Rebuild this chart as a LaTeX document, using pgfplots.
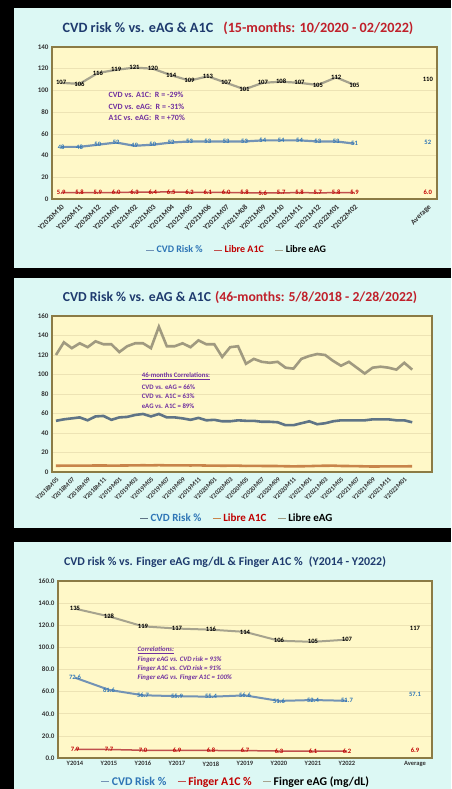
\documentclass[border=0pt]{standalone}
\usepackage{pgfplots}
\pgfplotsset{compat=1.18}
\usepackage{fontspec}
\setmainfont{Carlito}
\definecolor{panelcyan}{HTML}{DCF8F4}
\definecolor{plotbg}{HTML}{FFF8C8}
\definecolor{axisborder}{HTML}{8B7B45}
\definecolor{gridc}{HTML}{EDE3B4}
\definecolor{titlenavy}{HTML}{1F3B6E}
\definecolor{titlered}{HTML}{C0202A}
\definecolor{corrpurple}{HTML}{7030A0}
\definecolor{cvdtext}{HTML}{2E75B6}
\definecolor{a1ctext}{HTML}{C00000}
\definecolor{ticktext}{HTML}{333333}
\definecolor{eagline}{HTML}{A6A38E}
\definecolor{cvdline}{HTML}{7393B5}
\definecolor{a1cline}{HTML}{C0504D}
\definecolor{eagline2}{HTML}{A09A80}
\definecolor{cvdline2}{HTML}{5F7486}
\definecolor{a1cline2}{HTML}{C8844A}
\pgfkeys{/pgf/number format/assume math mode=true}
\pgfplotsset{
  panel/.style={
    scale only axis, clip=false,
    axis background/.style={fill=plotbg},
    axis line style={draw=axisborder, line width=1.3pt},
    ymajorgrids, grid style={draw=gridc, line width=0.6pt},
    major tick length=0pt,
    tick label style={font=\bfseries\fontsize{7}{8}\selectfont, text=ticktext},
    legend style={draw=none, fill=none, legend columns=3, font=\bfseries\fontsize{10}{12}\selectfont,
      /tikz/every even column/.append style={column sep=9pt}},
    legend image code/.code={\draw[##1, line width=0.9pt] (0pt,0pt) -- (8pt,0pt);},
  },
  lab/.style={nodes near coords, every node near coord/.append style={font=\bfseries\fontsize{6.6}{7}\selectfont, text=#1, anchor=center, inner sep=0pt}},
  labd/.style={nodes near coords={\pgfmathprintnumber[fixed,fixed zerofill,precision=1]{\pgfplotspointmeta}}, every node near coord/.append style={font=\bfseries\fontsize{6.6}{7}\selectfont, text=#1, anchor=center, inner sep=0pt}},
}
\begin{document}
\begin{tikzpicture}
\useasboundingbox (0pt,0pt) rectangle (451pt,789pt);
\fill[black] (0pt,0pt) rectangle (451pt,789pt);
\fill[panelcyan] (14pt,781pt) rectangle (451pt,521pt);
\fill[panelcyan] (14pt,511pt) rectangle (451pt,261pt);
\fill[panelcyan] (14pt,247pt) rectangle (451pt,0pt);

% ---------- Panel 1 ----------
\node[font=\bfseries\fontsize{14.2}{16}\selectfont] at (238pt,761pt)
  {\textcolor{titlenavy}{CVD risk \% vs. eAG \& A1C}\hspace{10pt}\textcolor{titlered}{(15-months: 10/2020 - 02/2022)}};
\begin{axis}[panel, at={(52pt,590pt)}, anchor=south west, width=385pt, height=152pt,
  xmin=-0.5, xmax=20.5, ymin=0, ymax=140, ytick={0,20,...,140},
  xtick={0,...,16,20},
  xticklabels={Y2020M10,Y2020M11,Y2020M12,Y2021M01,Y2021M02,Y2021M03,Y2021M04,Y2021M05,Y2021M06,Y2021M07,Y2021M08,Y2021M09,Y2021M10,Y2021M11,Y2021M12,Y2022M01,Y2022M02,Average},
  xticklabel style={rotate=45, anchor=north east, font=\bfseries\fontsize{7.5}{8}\selectfont},
  legend style={at={(0.48,-0.336)}, anchor=center}]
\addplot[cvdline, line width=2.2pt, lab=cvdtext] coordinates {(0,48)(1,48)(2,50)(3,52)(4,49)(5,50)(6,52)(7,53)(8,53)(9,53)(10,53)(11,54)(12,54)(13,54)(14,53)(15,53)(16,51)};
\addlegendentry{\textcolor{cvdtext}{CVD Risk \%}}
\addplot[a1cline, line width=1.5pt, labd=a1ctext] coordinates {(0,5.9)(1,5.8)(2,5.9)(3,6.0)(4,6.3)(5,6.4)(6,6.5)(7,6.2)(8,6.1)(9,6.0)(10,5.8)(11,5.6)(12,5.7)(13,5.8)(14,5.7)(15,5.8)(16,5.9)};
\addlegendentry{\textcolor{a1ctext}{Libre A1C}}
\addplot[eagline, line width=2.2pt, lab=black] coordinates {(0,107)(1,106)(2,116)(3,119)(4,121)(5,120)(6,114)(7,109)(8,113)(9,107)(10,101)(11,107)(12,108)(13,107)(14,105)(15,112)(16,105)};
\addlegendentry{\textcolor{black}{Libre eAG}}
\addplot[draw=none, forget plot, lab=black] coordinates {(20,110)};
\addplot[draw=none, forget plot, lab=cvdtext] coordinates {(20,52)};
\addplot[draw=none, forget plot, labd=a1ctext] coordinates {(20,6.0)};
\node[anchor=west, font=\bfseries\fontsize{8}{9}\selectfont, text=corrpurple] at (axis cs:2.4,95.8) {CVD vs. A1C:\ \ R = -29\%};
\node[anchor=west, font=\bfseries\fontsize{8}{9}\selectfont, text=corrpurple] at (axis cs:2.4,84.7) {CVD vs. eAG:\ \ R = -31\%};
\node[anchor=west, font=\bfseries\fontsize{8}{9}\selectfont, text=corrpurple] at (axis cs:2.4,74.6) {A1C vs. eAG:\ \ R = +70\%};
\end{axis}

% ---------- Panel 2 ----------
\node[font=\bfseries\fontsize{13.7}{16}\selectfont] at (240pt,492pt)
  {\textcolor{titlenavy}{CVD Risk \% vs. eAG \& A1C}\hspace{4pt}\textcolor{titlered}{(46-months: 5/8/2018 - 2/28/2022)}};
\begin{axis}[panel, at={(52pt,317pt)}, anchor=south west, width=380pt, height=156pt,
  xmin=-0.5, xmax=47.5, ymin=0, ymax=160, ytick={0,20,...,160},
  xtick={0,2,...,44},
  xticklabels={Y2018M05,Y2018M07,Y2018M09,Y2018M11,Y2019M01,Y2019M03,Y2019M05,Y2019M07,Y2019M09,Y2019M11,Y2020M01,Y2020M03,Y2020M05,Y2020M07,Y2020M09,Y2020M11,Y2021M01,Y2021M03,Y2021M05,Y2021M07,Y2021M09,Y2021M11,Y2022M01},
  xticklabel style={rotate=45, anchor=north east, font=\bfseries\fontsize{6.6}{7}\selectfont},
  legend style={at={(0.487,-0.295)}, anchor=center, font=\bfseries\fontsize{11}{13}\selectfont}]
\addplot[cvdline2, line width=2.6pt] coordinates {(0,52.5)(1,54)(2,55)(3,56)(4,53)(5,57)(6,57.5)(7,53.5)(8,56)(9,56.5)(10,58.5)(11,59.5)(12,57)(13,59.5)(14,56)(15,56)(16,55)(17,53.5)(18,55.5)(19,53)(20,53.5)(21,52)(22,52)(23,53)(24,52.5)(25,52.5)(26,51.5)(27,51.5)(28,51)(29,48)(30,48)(31,50)(32,52)(33,49)(34,50)(35,52)(36,53)(37,53)(38,53)(39,53)(40,54)(41,54)(42,54)(43,53)(44,53)(45,51)};
\addlegendentry{\textcolor{cvdtext}{CVD Risk \%}}
\addplot[a1cline2, line width=2.6pt] coordinates {(0,6.4)(1,6.5)(2,6.5)(3,6.6)(4,6.5)(5,6.7)(6,6.7)(7,6.5)(8,6.6)(9,6.7)(10,6.8)(11,6.9)(12,6.8)(13,7.0)(14,6.8)(15,6.8)(16,6.8)(17,6.7)(18,6.8)(19,6.6)(20,6.6)(21,6.4)(22,6.5)(23,6.5)(24,6.2)(25,6.3)(26,6.2)(27,6.2)(28,6.1)(29,5.9)(30,5.8)(31,5.9)(32,6.0)(33,6.3)(34,6.4)(35,6.5)(36,6.2)(37,6.1)(38,6.0)(39,5.8)(40,5.6)(41,5.7)(42,5.8)(43,5.7)(44,5.8)(45,5.9)};
\addlegendentry{\textcolor{a1ctext}{Libre A1C}}
\addplot[eagline2, line width=2.6pt] coordinates {(0,120)(1,133)(2,127)(3,132)(4,128)(5,134)(6,131)(7,131)(8,123)(9,129)(10,132)(11,132)(12,127)(13,149)(14,129)(15,129)(16,132)(17,128)(18,135)(19,131)(20,131)(21,118)(22,128)(23,129)(24,111)(25,116)(26,113)(27,112)(28,113)(29,107)(30,106)(31,116)(32,119)(33,121)(34,120)(35,114)(36,109)(37,113)(38,107)(39,101)(40,107)(41,108)(42,107)(43,105)(44,112)(45,105)};
\addlegendentry{\textcolor{black}{Libre eAG}}
\node[anchor=west, font=\bfseries\fontsize{6.8}{8}\selectfont, text=corrpurple] at (axis cs:10.4,98.5) {\underline{46-months Correlations:}};
\node[anchor=west, font=\bfseries\fontsize{6.8}{8}\selectfont, text=corrpurple] at (axis cs:10.4,87.2) {CVD vs. eAG = 66\%};
\node[anchor=west, font=\bfseries\fontsize{6.8}{8}\selectfont, text=corrpurple] at (axis cs:10.4,78) {CVD vs. A1C = 63\%};
\node[anchor=west, font=\bfseries\fontsize{6.8}{8}\selectfont, text=corrpurple] at (axis cs:10.4,67.7) {eAG vs. A1C = 89\%};
\end{axis}

% ---------- Panel 3 ----------
\node[font=\bfseries\fontsize{11.9}{14}\selectfont, text=titlenavy] at (225pt,227pt)
  {CVD risk \% vs. Finger eAG mg/dL \& Finger A1C \%\hspace{6pt}(Y2014 - Y2022)};
\begin{axis}[panel, at={(58pt,31pt)}, anchor=south west, width=374pt, height=177pt,
  xmin=-0.5, xmax=10.5, ymin=0, ymax=160, ytick={0,20,...,160},
  yticklabel style={/pgf/number format/.cd, fixed, fixed zerofill, precision=1},
  xtick={0,...,8,10},
  xticklabels={Y2014,Y2015,Y2016,Y2017,Y2018,Y2019,Y2020,Y2021,Y2022,Average},
  xticklabel style={font=\bfseries\fontsize{6.5}{7}\selectfont},
  legend style={at={(0.476,-0.135)}, anchor=center, font=\bfseries\fontsize{11.8}{14}\selectfont}]
\addplot[cvdline, line width=2pt, labd=cvdtext] coordinates {(0,72.6)(1,61.6)(2,56.7)(3,55.9)(4,55.4)(5,56.6)(6,51.6)(7,52.4)(8,51.7)};
\addlegendentry{\textcolor{cvdtext}{CVD Risk \%}}
\addplot[a1cline, line width=1.5pt, labd=a1ctext] coordinates {(0,7.9)(1,7.7)(2,7.0)(3,6.9)(4,6.8)(5,6.7)(6,6.3)(7,6.1)(8,6.2)};
\addlegendentry{\textcolor{a1ctext}{Finger A1C \%}}
\addplot[eagline, line width=2pt, lab=black] coordinates {(0,135)(1,128)(2,119)(3,117)(4,116)(5,114)(6,106)(7,105)(8,107)};
\addlegendentry{\textcolor{black}{Finger eAG (mg/dL)}}
\addplot[draw=none, forget plot, lab=black] coordinates {(10,117)};
\addplot[draw=none, forget plot, labd=cvdtext] coordinates {(10,57.1)};
\addplot[draw=none, forget plot, labd=a1ctext] coordinates {(10,6.9)};
\node[anchor=west, font=\bfseries\itshape\fontsize{6.8}{8}\selectfont, text=corrpurple] at (axis cs:1.74,97.6) {\underline{Correlations:}};
\node[anchor=west, font=\bfseries\itshape\fontsize{6.8}{8}\selectfont, text=corrpurple] at (axis cs:1.74,88.6) {Finger eAG vs. CVD risk = 93\%};
\node[anchor=west, font=\bfseries\itshape\fontsize{6.8}{8}\selectfont, text=corrpurple] at (axis cs:1.74,80.5) {Finger A1C vs. CVD risk = 91\%};
\node[anchor=west, font=\bfseries\itshape\fontsize{6.8}{8}\selectfont, text=corrpurple] at (axis cs:1.74,72.3) {Finger eAG vs. Finger A1C = 100\%};
\end{axis}
\end{tikzpicture}
\end{document}
